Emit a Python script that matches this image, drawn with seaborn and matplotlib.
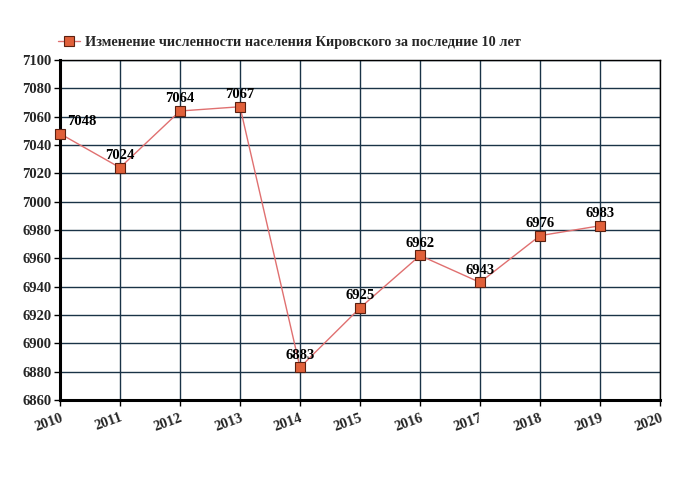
import matplotlib
matplotlib.use("Agg")
import matplotlib.pyplot as plt
import seaborn as sns
import pandas as pd

years = [2010, 2011, 2012, 2013, 2014, 2015, 2016, 2017, 2018, 2019]
population = [7048, 7024, 7064, 7067, 6883, 6925, 6962, 6943, 6976, 6983]
title = "Изменение численности населения Кировского за последние 10 лет"
x_ticks = list(range(2010, 2021))
y_ticks = list(range(6860, 7101, 20))

sns.set_theme(style="white")
plt.rcParams['font.family'] = ['Liberation Serif', 'DejaVu Serif']
plt.rcParams['font.weight'] = 'bold'

df = pd.DataFrame({"year": years, "pop": population})

fig = plt.figure(figsize=(6.8, 5.0), dpi=100)
ax = fig.add_axes([60/680, 1-400/500, 600/680, 340/500])

sns.lineplot(data=df, x="year", y="pop", ax=ax, color="#e07070", linewidth=1.0,
             marker="s", markersize=7, markerfacecolor="#e0603a",
             markeredgecolor="#5a2010", markeredgewidth=0.8, label=title,
             zorder=3, clip_on=False)

ax.set_xlim(2010, 2020)
ax.set_ylim(6860, 7100)
ax.set_xticks(x_ticks)
ax.set_yticks(y_ticks)
ax.set_xticklabels([str(t) for t in x_ticks], rotation=20, fontsize=10.5, fontweight='bold',
                   ha='right', va='top', rotation_mode='anchor')
ax.set_yticklabels([str(t) for t in y_ticks], fontsize=10.5, fontweight='bold')
ax.set_xlabel("")
ax.set_ylabel("")
ax.grid(True, color="#1a3347", linewidth=1.0)
ax.tick_params(axis='both', length=4, width=1, color='black', pad=2, direction='out',
               bottom=True, left=True)
ax.tick_params(axis='x', pad=4)
for s in ['left', 'bottom']:
    ax.spines[s].set_linewidth(2.2)
    ax.spines[s].set_color('black')
for s in ['right', 'top']:
    ax.spines[s].set_linewidth(1.0)
    ax.spines[s].set_color('black')

for i, (x, y) in enumerate(zip(years, population)):
    dx = 16 if i == 0 else 0
    ax.annotate(str(y), (x, y), xytext=(dx, 4), textcoords='offset points',
                ha='center', va='bottom', fontsize=10.5, fontweight='bold', color='black')

leg = ax.legend(loc='upper left', bbox_to_anchor=(-0.003, 1.072), frameon=False,
                fontsize=10.3, handlelength=1.5, borderaxespad=0, handletextpad=0.4,
                borderpad=0)
for t in leg.get_texts():
    t.set_fontweight('bold')

fig.savefig("out.png", dpi=100)
